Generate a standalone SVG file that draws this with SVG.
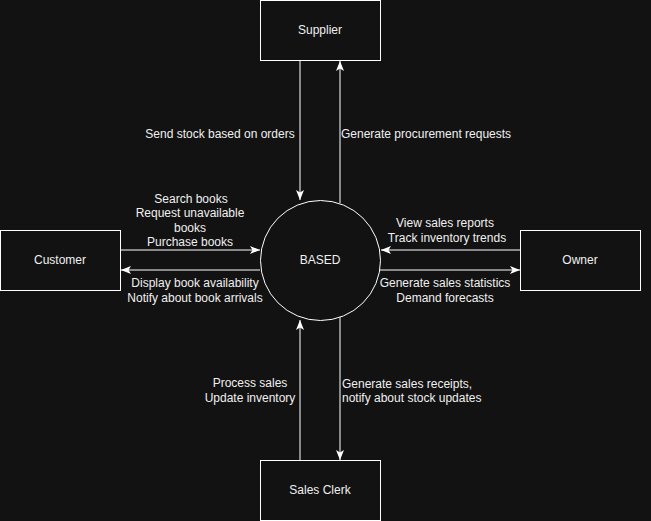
<svg xmlns="http://www.w3.org/2000/svg" width="651" height="521" viewBox="0 0 651 521">
<style>
.bg{fill:#121212}
.n{fill:#121212;stroke:#ffffff;stroke-width:1}
.t{font-family:"Liberation Sans",Arial,sans-serif;font-size:12px;fill:#f0f0f0}
.c{text-anchor:middle}
.e{stroke:#ffffff;stroke-width:1;fill:none;marker-end:url(#arr)}
</style>
<defs>
<marker id="arr" viewBox="0 0 10 8" refX="10" refY="4" markerWidth="10" markerHeight="8" markerUnits="userSpaceOnUse" orient="auto">
<path d="M0,0 L10,4 L0,8 L2.5,4 Z" fill="#ffffff"/>
</marker>
</defs>
<rect class="bg" x="0" y="0" width="651" height="521"/>
<g id="connectors">
<line class="e" x1="300" y1="60" x2="300" y2="200"/>
<line class="e" x1="340" y1="203" x2="340" y2="61"/>
<line class="e" x1="120" y1="250" x2="260" y2="250"/>
<line class="e" x1="260" y1="270" x2="121" y2="270"/>
<line class="e" x1="520" y1="250" x2="381" y2="250"/>
<line class="e" x1="380" y1="270" x2="520" y2="270"/>
<line class="e" x1="300" y1="460" x2="300" y2="320"/>
<line class="e" x1="340" y1="317" x2="340" y2="460"/>
<text class="t c" x="220" y="138">Send stock based on orders</text>
<text class="t" x="341" y="138">Generate procurement requests</text>
<text class="t c" x="191" y="203">Search books</text>
<text class="t c" x="190" y="217">Request unavailable</text>
<text class="t c" x="190" y="232">books</text>
<text class="t c" x="190" y="246">Purchase books</text>
<text class="t c" x="195" y="287">Display book availability</text>
<text class="t c" x="195" y="302">Notify about book arrivals</text>
<text class="t c" x="445" y="227">View sales reports</text>
<text class="t c" x="447" y="242">Track inventory trends</text>
<text class="t c" x="445" y="287">Generate sales statistics</text>
<text class="t c" x="445" y="302">Demand forecasts</text>
<text class="t c" x="250" y="387">Process sales</text>
<text class="t c" x="250" y="402">Update inventory</text>
<text class="t" x="342" y="388">Generate sales receipts,</text>
<text class="t" x="342" y="402">notify about stock updates</text>
</g>
<g id="supplier"><rect class="n" x="260.5" y="0.5" width="120" height="60"/><text class="t c" x="320" y="34">Supplier</text></g>
<g id="customer"><rect class="n" x="0.5" y="230.5" width="120" height="60"/><text class="t c" x="60" y="264">Customer</text></g>
<g id="owner"><rect class="n" x="520.5" y="230.5" width="120" height="60"/><text class="t c" x="580" y="264">Owner</text></g>
<g id="salesclerk"><rect class="n" x="260.5" y="460.5" width="120" height="60"/><text class="t c" x="320" y="494">Sales Clerk</text></g>
<g id="based"><circle class="n" cx="320.5" cy="260.5" r="60"/><text class="t c" x="320" y="264">BASED</text></g>
</svg>
